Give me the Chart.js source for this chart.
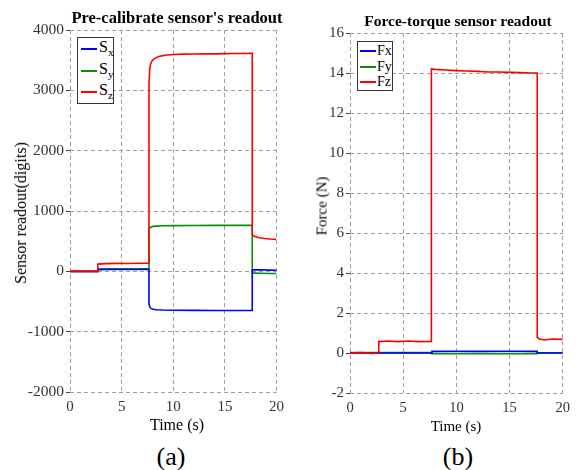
<!DOCTYPE html>
<html><head><meta charset="utf-8">
<script src="https://cdn.jsdelivr.net/npm/chart.js@4.4.1/dist/chart.umd.min.js"></script>
<style>
html,body{margin:0;padding:0;background:#fff;}
body{width:576px;height:470px;position:relative;overflow:hidden;font-family:"Liberation Serif","Times New Roman",serif;color:#000;}
canvas{position:absolute;top:0;}
.t{position:absolute;white-space:nowrap;transform:translate(-50%,-50%);line-height:1;}
.lg{position:absolute;border:1px solid #333;background:#fff;box-sizing:border-box;}
.ln{position:absolute;height:2px;}
.lt{position:absolute;white-space:nowrap;line-height:1;transform:translateY(-50%);}
sub{font-size:70%;vertical-align:-0.35em;line-height:0;}
</style></head>
<body>
<canvas id="ca" width="290" height="420" style="left:0"></canvas>
<canvas id="cb" width="286" height="420" style="left:290px"></canvas>

<div class="t" style="left:177px;top:18px;font-size:16.5px;font-weight:bold">Pre-calibrate sensor's readout</div>
<div class="t" style="left:458px;top:21px;font-size:15.5px;font-weight:bold">Force-torque sensor readout</div>
<div class="t" style="left:21px;top:213px;font-size:16px;transform:translate(-50%,-50%) rotate(-90deg)">Sensor readout(digits)</div>
<div class="t" style="left:322px;top:206px;font-size:15px;transform:translate(-50%,-50%) rotate(-90deg)">Force (N)</div>
<div class="t" style="left:177px;top:425px;font-size:16px">Time (s)</div>
<div class="t" style="left:456px;top:426px;font-size:15px">Time (s)</div>
<div class="t" style="left:171px;top:457px;font-size:26px">(a)</div>
<div class="t" style="left:458px;top:457px;font-size:26px">(b)</div>

<div class="lg" style="left:77px;top:37px;width:37px;height:67px"></div>
<div class="ln" style="left:81px;top:48px;width:16px;background:#0000ff"></div>
<div class="ln" style="left:81px;top:70px;width:16px;background:#0a8a0a"></div>
<div class="ln" style="left:81px;top:91px;width:16px;background:#ff0000"></div>
<div class="lt" style="left:99px;top:47px;font-size:16px">S<sub>x</sub></div>
<div class="lt" style="left:99px;top:69px;font-size:16px">S<sub>y</sub></div>
<div class="lt" style="left:99px;top:90px;font-size:16px">S<sub>z</sub></div>

<div class="lg" style="left:357px;top:41px;width:36px;height:50px"></div>
<div class="ln" style="left:360px;top:50px;width:16px;background:#0000ff"></div>
<div class="ln" style="left:360px;top:66px;width:16px;background:#0a8a0a"></div>
<div class="ln" style="left:360px;top:81px;width:16px;background:#ff0000"></div>
<div class="lt" style="left:377px;top:51px;font-size:14px">Fx</div>
<div class="lt" style="left:377px;top:67px;font-size:14px">Fy</div>
<div class="lt" style="left:377px;top:82px;font-size:14px">Fz</div>

<script>
// ---------- data ----------
const timeTicks = [0, 5, 10, 15, 20];
const leftYTicks = [-2000, -1000, 0, 1000, 2000, 3000, 4000];
const rightYTicks = [-2, 0, 2, 4, 6, 8, 10, 12, 14, 16];

// (a) pre-calibrate sensor readout (digits)
const sxT = [0, 2.7, 2.7, 4, 5.5, 7, 7.65, 7.65, 7.72, 7.85, 8.05, 8.4, 9, 10, 12, 14, 16, 17.65, 17.65, 17.8, 18.5, 19.3, 20];
const sxV = [0, 0, 28, 30, 31, 30, 32, -540, -590, -615, -628, -636, -642, -645, -647, -648, -649, -650, 18, 24, 25, 20, 18];
const syT = [0, 2.7, 2.7, 4, 5.5, 7, 7.65, 7.65, 7.72, 7.85, 8.05, 8.4, 9, 10, 12, 14, 16, 17.65, 17.65, 17.8, 18.5, 19.3, 20];
const syV = [0, 0, 40, 42, 43, 44, 45, 690, 720, 735, 745, 750, 755, 758, 760, 761, 762, 762, -20, -30, -33, -35, -36];
const szT = [0, 2.7, 2.7, 3.5, 4.5, 5.5, 6.5, 7.65, 7.65, 7.72, 7.8, 7.95, 8.2, 8.6, 9.2, 10, 11, 12, 13, 14, 15, 16, 17.65, 17.65, 17.8, 18.2, 18.8, 19.4, 20];
const szV = [0, 0, 120, 128, 132, 130, 134, 135, 3100, 3350, 3430, 3490, 3530, 3560, 3582, 3595, 3600, 3603, 3606, 3605, 3609, 3611, 3612, 610, 585, 560, 545, 535, 530];

// (b) force-torque sensor readout (N)
const fxT = [0, 7.7, 7.7, 10, 12, 14, 16, 17.6, 17.6, 20];
const fxV = [0, 0, 0.08, 0.09, 0.08, 0.09, 0.09, 0.08, 0, 0];
const fyT = [0, 2.7, 7.7, 7.7, 12, 17.6, 17.6, 20];
const fyV = [0.02, 0.02, 0.02, -0.03, -0.03, -0.03, 0.01, 0.01];
const fzT = [0, 1, 2, 2.7, 2.7, 3.5, 4.5, 5.5, 6.5, 7.65, 7.65, 8, 9, 10, 11, 12, 13, 14, 15, 16, 17, 17.6, 17.6, 17.8, 18.3, 19, 20];
const fzV = [0, 0.02, -0.02, 0, 0.57, 0.6, 0.57, 0.6, 0.57, 0.58, 14.2, 14.18, 14.15, 14.12, 14.1, 14.08, 14.05, 14.05, 14.03, 14.02, 14.0, 14.0, 0.78, 0.7, 0.65, 0.7, 0.68];

const BLUE = '#0000ff', GREEN = '#0a8a0a', RED = '#ff0000';
const FAMILY = "'Liberation Serif', serif";
function pts(t, v) { return t.map((x, i) => ({x: x, y: v[i]})); }

function makeChart(id, sets, yTicks, opt) {
  return new Chart(document.getElementById(id), {
    type: 'scatter',
    data: { datasets: sets.map(s => ({
      data: pts(s.t, s.v), borderColor: s.c, backgroundColor: s.c,
      showLine: true, pointRadius: 0, borderWidth: 1.6, tension: 0
    })) },
    options: {
      responsive: false, animation: false, events: [],
      layout: { padding: { top: opt.top, right: opt.right, left: 0, bottom: 0 } },
      plugins: { legend: { display: false }, tooltip: { enabled: false } },
      scales: {
        x: {
          type: 'linear', min: timeTicks[0], max: timeTicks[timeTicks.length - 1],
          afterBuildTicks: s => { s.ticks = timeTicks.map(v => ({value: v})); },
          afterFit: s => { s.height = opt.xh; },
          grid: { color: '#a0a0a0', lineWidth: 1, drawTicks: false },
          border: { display: false, dash: [4, 3] },
          ticks: { padding: 6, color: '#333', font: { family: FAMILY, size: opt.xf }, callback: v => String(v), maxRotation: 0 }
        },
        y: {
          type: 'linear', min: yTicks[0], max: yTicks[yTicks.length - 1],
          afterBuildTicks: s => { s.ticks = yTicks.map(v => ({value: v})); },
          afterFit: s => { s.width = opt.yw; },
          grid: { color: '#a0a0a0', lineWidth: 1, drawTicks: true, tickLength: 4, tickColor: '#444', tickBorderDash: [] },
          border: { display: false, dash: [4, 3] },
          ticks: { padding: 2, color: '#333', font: { family: FAMILY, size: opt.yf }, callback: v => String(v) }
        }
      }
    }
  });
}

function draw() {
  makeChart('ca', [
    {t: szT, v: szV, c: RED},
    {t: sxT, v: sxV, c: BLUE},
    {t: syT, v: syV, c: GREEN}
  ], leftYTicks, {top: 30, right: 7, yw: 70, xh: 28, xf: 15, yf: 15.5});

  makeChart('cb', [
    {t: fzT, v: fzV, c: RED},
    {t: fxT, v: fxV, c: BLUE},
    {t: fyT, v: fyV, c: GREEN}
  ], rightYTicks, {top: 33, right: 9, yw: 60, xh: 27, xf: 14.5, yf: 15});
}

if (document.fonts && document.fonts.load) {
  Promise.all([
    document.fonts.load("15px 'Liberation Serif'"),
    document.fonts.load("bold 15px 'Liberation Serif'")
  ]).then(draw, draw);
} else { draw(); }
</script>
</body></html>
